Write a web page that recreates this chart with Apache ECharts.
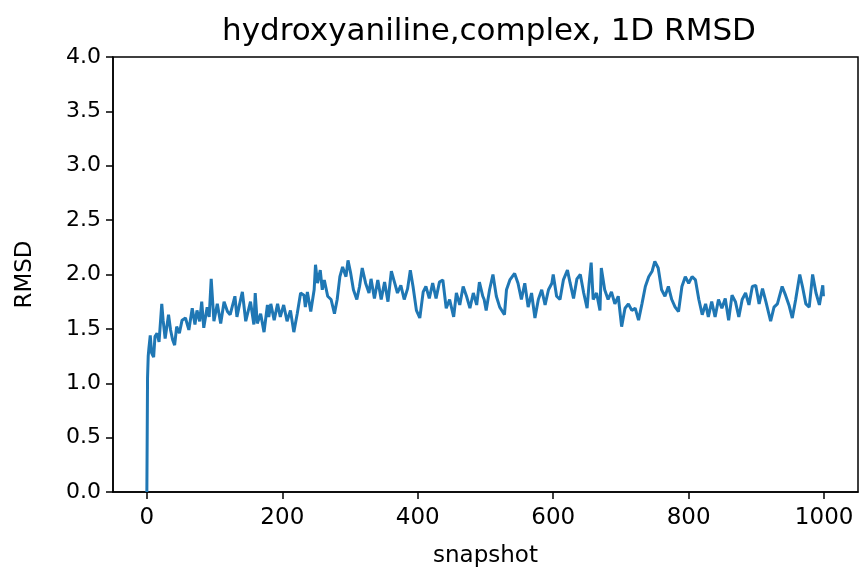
<!DOCTYPE html>
<html>
<head>
<meta charset="utf-8">
<script src="https://cdn.jsdelivr.net/npm/echarts@6/dist/echarts.min.js"></script>
<style>
html,body{margin:0;padding:0;background:#fff;}
#chart{width:864px;height:577px;}
</style>
</head>
<body>
<div id="chart"></div>
<script>
const chartTitle = 'hydroxyaniline,complex, 1D RMSD';
const xLabel = 'snapshot';
const yLabel = 'RMSD';
const xTicks = [0, 200, 400, 600, 800, 1000];
const yTicks = [0, 0.5, 1.0, 1.5, 2.0, 2.5, 3.0, 3.5, 4.0];

const snapshots = [
  0,1,2,3,5,7,10,12,15,18,22,24,27,32,35,38,41,44,48,52,57,62,67,71,74,78,81,84,89,92,95,99,104,109,114,119,123,130,133,137,141,146,153,158,
  160,163,168,173,178,180,183,188,193,197,202,207,212,217,222,227,232,234,237,242,247,249,252,256,259,262,267,272,277,281,285,289,294,297,301,305,310,314,318,323,328,
  331,336,341,346,351,356,361,366,370,375,380,385,389,393,398,403,408,412,417,422,427,432,437,442,447,453,457,462,467,472,477,482,487,491,496,
  498,501,506,511,516,521,528,531,536,543,548,553,558,563,568,573,578,583,588,593,598,600,605,610,615,621,625,630,635,640,645,650,653,656,659,664,669,
  671,676,681,686,691,696,701,706,711,716,721,726,731,736,741,746,750,755,760,765,770,775,780,785,790,795,800,805,810,815,820,825,829,834,839,
  844,849,854,859,864,869,874,879,884,889,894,899,904,909,914,921,926,931,938,943,948,953,958,964,968,973,978,983,988,993,998,999
];
const rmsd = [
  0.0,1.05,1.25,1.32,1.44,1.28,1.24,1.43,1.46,1.38,1.73,1.58,1.41,1.63,1.49,1.40,1.35,1.52,1.46,1.58,1.60,1.49,1.69,1.54,1.67,1.57,1.75,1.51,1.70,1.61,1.96,1.57,1.73,1.55,1.75,1.66,1.63,1.80,1.61,1.73,1.84,1.57,1.75,1.54,
  1.83,1.55,1.64,1.47,1.72,1.61,1.73,1.58,1.73,1.61,1.72,1.57,1.67,1.47,1.64,1.83,1.81,1.70,1.84,1.66,1.86,2.09,1.92,2.04,1.86,1.95,1.80,1.77,1.64,1.77,1.98,2.07,1.98,2.13,2.01,1.86,1.77,1.89,2.06,1.92,1.83,
  1.96,1.78,1.95,1.77,1.93,1.75,2.03,1.92,1.83,1.90,1.77,1.87,2.04,1.89,1.67,1.60,1.84,1.89,1.78,1.92,1.78,1.93,1.95,1.69,1.77,1.61,1.83,1.72,1.89,1.80,1.69,1.83,1.72,1.93,1.80,
  1.77,1.67,1.86,2.00,1.80,1.70,1.63,1.86,1.95,2.01,1.92,1.77,1.92,1.70,1.83,1.60,1.77,1.86,1.72,1.86,1.92,2.00,1.80,1.77,1.95,2.04,1.92,1.78,1.96,2.00,1.83,1.69,1.92,2.11,1.77,1.83,1.67,
  2.06,1.86,1.77,1.84,1.73,1.80,1.52,1.69,1.73,1.67,1.69,1.58,1.73,1.89,1.98,2.03,2.12,2.06,1.86,1.80,1.89,1.77,1.70,1.66,1.89,1.98,1.92,1.98,1.95,1.77,1.63,1.73,1.61,1.75,1.61,
  1.77,1.69,1.78,1.58,1.81,1.75,1.61,1.77,1.83,1.72,1.89,1.90,1.73,1.87,1.75,1.57,1.70,1.73,1.89,1.81,1.72,1.60,1.77,2.00,1.89,1.73,1.70,2.00,1.83,1.72,1.90,1.80
];

const FONT = 'DejaVu Sans';
const seriesData = snapshots.map((s, i) => [s, rmsd[i]]);

const chart = echarts.init(document.getElementById('chart'), null, {renderer: 'canvas'});
chart.setOption({
  animation: false,
  backgroundColor: '#ffffff',
  title: {
    text: chartTitle,
    left: 484,
    textAlign: 'center',
    top: 11,
    textStyle: {fontFamily: FONT, fontSize: 31, fontWeight: 'normal', color: '#000'}
  },
  grid: {left: 113, right: 6, top: 57, bottom: 85, show: true, borderColor: '#000', borderWidth: 1.5, backgroundColor: 'transparent'},
  xAxis: {
    type: 'value',
    min: -50, max: 1050,
    name: xLabel,
    nameLocation: 'middle',
    nameGap: 53,
    nameTextStyle: {fontFamily: FONT, fontSize: 23, color: '#000'},
    axisLine: {show: true, onZero: false, lineStyle: {color: '#000', width: 1.5}},
    axisTick: {show: true, inside: false, length: 7, lineStyle: {color: '#000', width: 1.5}, customValues: xTicks},
    axisLabel: {fontFamily: FONT, fontSize: 23, color: '#000', margin: 15, customValues: xTicks, formatter: v => String(v)},
    splitLine: {show: false}
  },
  yAxis: {
    type: 'value',
    min: 0, max: 4,
    name: yLabel,
    nameLocation: 'middle',
    nameRotate: 90,
    nameGap: 76,
    nameTextStyle: {fontFamily: FONT, fontSize: 23, color: '#000'},
    axisLine: {show: true, onZero: false, lineStyle: {color: '#000', width: 1.5}},
    axisTick: {show: true, inside: false, length: 7, lineStyle: {color: '#000', width: 1.5}, customValues: yTicks},
    axisLabel: {fontFamily: FONT, fontSize: 22, color: '#000', margin: 12, customValues: yTicks, formatter: v => v.toFixed(1)},
    splitLine: {show: false}
  },
  series: [{
    type: 'line',
    data: seriesData,
    showSymbol: false,
    symbol: 'none',
    lineStyle: {color: '#1f77b4', width: 3},
    clip: true
  }]
});
</script>
</body>
</html>
